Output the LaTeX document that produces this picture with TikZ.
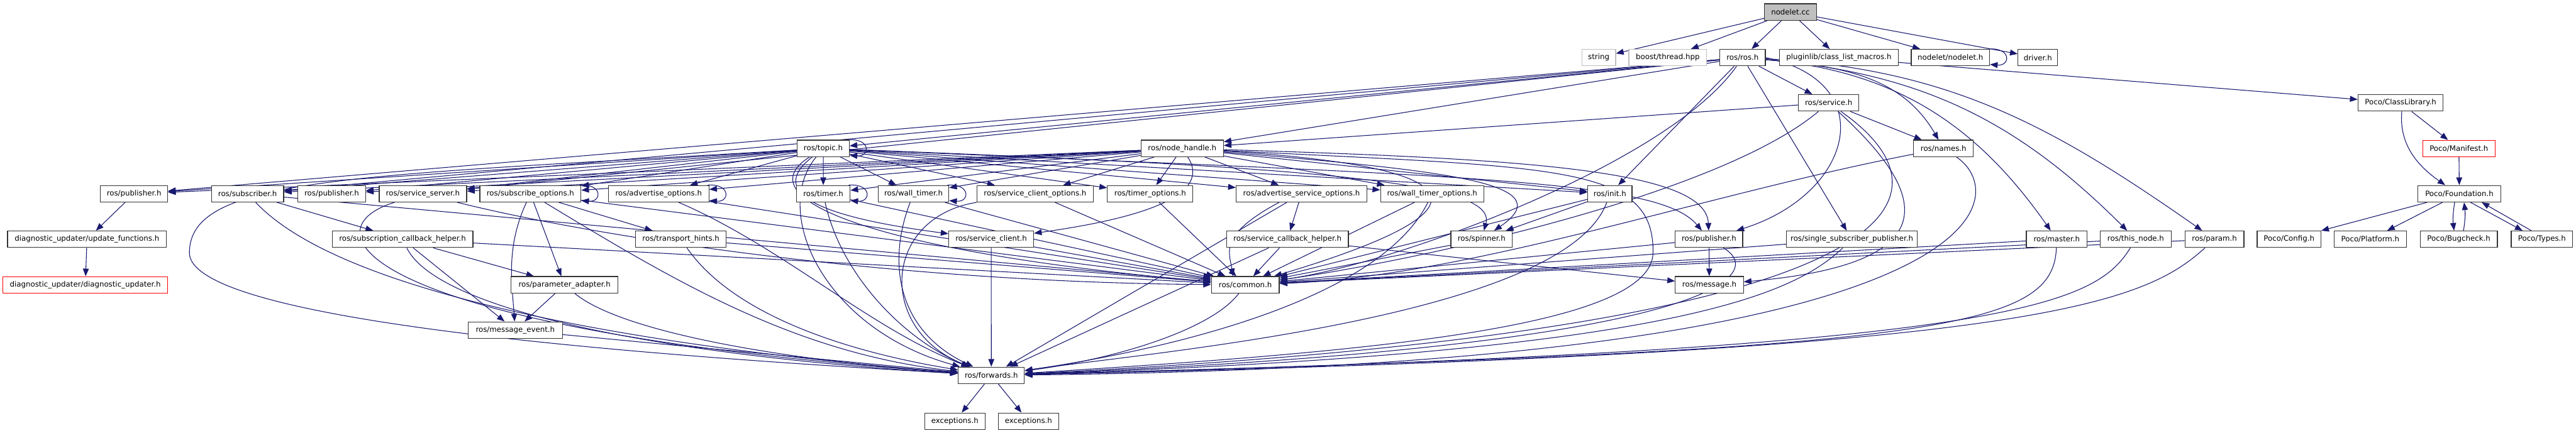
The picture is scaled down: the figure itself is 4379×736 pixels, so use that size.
\documentclass[tikz,border=0pt]{standalone}
\usepackage{fontspec}
\newfontfamily\dvs{DejaVu Sans}
\usetikzlibrary{arrows.meta}
\definecolor{edgec}{HTML}{191970}
\definecolor{gbord}{HTML}{BFBFBF}
\pgfdeclarelayer{bg}
\pgfsetlayers{bg,main}
\tikzset{
  box/.style={draw=black!80, line width=1.3pt, fill=white, minimum height=28pt, inner sep=0pt, font=\dvs\fontsize{12.6}{14}\selectfont},
  greybox/.style={box, draw=gbord},
  redbox/.style={box, draw=red, line width=1pt},
  rootbox/.style={box, fill=gbord},
  e/.style={draw=edgec, line width=1.15pt, -{Triangle[length=13pt,width=10pt]}},
}
\newcommand{\mkbox}[6]{\node[#1, minimum width={(#4-#3)*1pt}] (#2) at ({(#3+#4)/2},{-#5}) {#6};}
\newcommand{\selfloop}[1]{\draw[e] ([xshift=-3pt]#1.north east) .. controls +(40,3) and +(35,-3) .. ([yshift=3pt]#1.south east);}
\begin{document}
\begin{tikzpicture}[x=1pt,y=1pt]
\useasboundingbox (0,0) rectangle (4379,-736);
% row 0
\mkbox{rootbox}{n0}{2999.3}{3087.9}{20.5}{nodelet.cc}
% row 1
\mkbox{greybox}{str}{2689}{2746.4}{98}{string}
\mkbox{greybox}{bth}{2769}{2901}{98}{boost/thread.hpp}
\mkbox{box}{ros}{2923.5}{3001}{98}{ros/ros.h}
\mkbox{box}{plg}{3025}{3226.8}{98}{pluginlib/class\_list\_macros.h}
\mkbox{box}{ndh}{3248.9}{3382.1}{98}{nodelet/nodelet.h}
\mkbox{box}{drv}{3430.4}{3497.9}{98}{driver.h}
% row 2
\mkbox{box}{srv}{3057.1}{3160}{175}{ros/service.h}
\mkbox{box}{pcl}{4008.4}{4153.2}{175}{Poco/ClassLibrary.h}
% row 3
\mkbox{box}{top}{1355.4}{1443.6}{252.5}{ros/topic.h}
\mkbox{box}{nh}{1939.6}{2079.6}{252.5}{ros/node\_handle.h}
\mkbox{box}{nam}{3252.9}{3354.6}{252.5}{ros/names.h}
\mkbox{redbox}{man}{4118.4}{4241.4}{252.5}{Poco/Manifest.h}
% row 4
\mkbox{box}{pba}{170.7}{285}{329.6}{ros/publisher.h}
\mkbox{box}{sub}{359.6}{482.1}{329.6}{ros/subscriber.h}
\mkbox{box}{pbb}{506.4}{621.4}{329.6}{ros/publisher.h}
\mkbox{box}{ssv}{644.6}{793.2}{329.6}{ros/service\_server.h}
\mkbox{box}{sop}{815.7}{987.5}{329.6}{ros/subscribe\_options.h}
\mkbox{box}{aop}{1034.3}{1205}{329.6}{ros/advertise\_options.h}
\mkbox{box}{tim}{1353.9}{1445}{329.6}{ros/timer.h}
\mkbox{box}{wti}{1492.9}{1612.9}{329.6}{ros/wall\_timer.h}
\mkbox{box}{sco}{1661}{1858.2}{329.6}{ros/service\_client\_options.h}
\mkbox{box}{tio}{1882.5}{2027.9}{329.6}{ros/timer\_options.h}
\mkbox{box}{aso}{2101.4}{2323.5}{329.6}{ros/advertise\_service\_options.h}
\mkbox{box}{wto}{2346.8}{2522.3}{329.6}{ros/wall\_timer\_options.h}
\mkbox{box}{ini}{2699}{2774.3}{329.6}{ros/init.h}
\mkbox{box}{fnd}{4110.4}{4251}{329.6}{Poco/Foundation.h}
% row 5
\mkbox{box}{upf}{12.9}{282.9}{407}{diagnostic\_updater/update\_functions.h}
\mkbox{box}{scb}{564.6}{803.9}{407}{ros/subscription\_callback\_helper.h}
\mkbox{box}{thn}{1080.4}{1234.6}{407}{ros/transport\_hints.h}
\mkbox{box}{scl}{1612.9}{1757.1}{407}{ros/service\_client.h}
\mkbox{box}{sch}{2085}{2292.1}{407}{ros/service\_callback\_helper.h}
\mkbox{box}{spn}{2466.4}{2570.7}{407}{ros/spinner.h}
\mkbox{box}{pbc}{2847.9}{2962.5}{407}{ros/publisher.h}
\mkbox{box}{ssp}{3037.1}{3258.9}{407}{ros/single\_subscriber\_publisher.h}
\mkbox{box}{mst}{3444.6}{3547.9}{407}{ros/master.h}
\mkbox{box}{tnd}{3570.4}{3690.7}{407}{ros/this\_node.h}
\mkbox{box}{prm}{3714.3}{3814.4}{407}{ros/param.h}
\mkbox{box}{cfg}{3836.9}{3945.4}{407}{Poco/Config.h}
\mkbox{box}{plt}{3967.9}{4090.5}{407}{Poco/Platform.h}
\mkbox{box}{bug}{4114.2}{4245.2}{407}{Poco/Bugcheck.h}
\mkbox{box}{typ}{4268.9}{4373.2}{407}{Poco/Types.h}
% row 6
\mkbox{redbox}{dgu}{4.6}{285.4}{484.5}{diagnostic\_updater/diagnostic\_updater.h}
\mkbox{box}{pad}{868.6}{1050.7}{484.5}{ros/parameter\_adapter.h}
\mkbox{box}{com}{2059.3}{2174.6}{484.5}{ros/common.h}
\mkbox{box}{msg}{2847.9}{2963.6}{484.5}{ros/message.h}
% row 7-9
\mkbox{box}{mev}{795.7}{956.1}{561.5}{ros/message\_event.h}
\mkbox{box}{fwd}{1628.9}{1741.4}{638.5}{ros/forwards.h}
\mkbox{box}{ex1}{1571.8}{1674.6}{716.5}{exceptions.h}
\mkbox{box}{ex2}{1697.1}{1799.6}{716.5}{exceptions.h}
\coordinate (lp) at (322,-430);
\coordinate (rp) at (2810,-430);
\begin{pgfonlayer}{bg}
\fill[white] (0,0) rectangle (4379,-736);
\foreach \a/\b in {n0/str,n0/bth,n0/ros,n0/plg,n0/ndh,n0/drv,
  plg/pcl,pcl/man,man/fnd,fnd/cfg,fnd/plt,
  ros/top,ros/nh,ros/pba,ros/sub,ros/ssv,ros/ini,ros/srv,ros/ssp,
  srv/nh,srv/nam,
  top/pba,top/sub,top/pbb,top/ssv,top/sop,top/aop,top/tim,top/wti,top/sco,top/tio,top/aso,top/wto,top/ini,
  nh/pba,nh/sub,nh/pbb,nh/ssv,nh/sop,nh/aop,nh/tim,nh/wti,nh/sco,nh/tio,nh/aso,nh/wto,nh/ini,
  pba/upf,upf/dgu,sub/scb,sub/com,sop/pad,sop/thn,sop/com,
  aop/com,tim/com,wti/com,sco/com,scl/fwd,scl/com,tio/com,
  aso/sch,sch/com,sch/fwd,sch/msg,aso/fwd,wto/com,
  ini/spn,ini/com,spn/com,
  scb/pad,scb/mev,scb/com,pad/mev,mev/fwd,thn/com,
  pbc/msg,pbc/com,ssp/com,mst/com,tnd/com,prm/com,
  fwd/ex1,fwd/ex2}
  \draw[e] (\a) -- (\b);
% self loops
\selfloop{ndh}
\selfloop{top}
\selfloop{sop}
\selfloop{aop}
\selfloop{tim}
\selfloop{wti}
% Poco
\draw[e] ([xshift=2pt]pcl.south) to[out=-95,in=145] ([xshift=-24pt]fnd.north);
\draw[e] ([xshift=-8pt]fnd.south) to[bend right=8] ([xshift=-8pt]bug.north);
\draw[e] ([xshift=8pt]bug.north) to[bend right=8] ([xshift=8pt]fnd.south);
\draw[e] ([xshift=19pt]fnd.south) -- ([xshift=-33pt]typ.north);
\draw[e] ([xshift=-18pt]typ.north) -- ([xshift=38pt]fnd.south);
% ros.h
\draw[e] (ros) to[out=-125,in=8,looseness=0.6] (com);
\draw[e] (ros.east) .. controls (3200,-140) and (3150,-330) .. (pbc);
\draw[e] (ros) to[out=-5,in=120] (nam);
\draw[e] (ros) to[out=-5,in=125] (mst);
\draw[e] (ros) to[out=-5,in=135] (tnd);
\draw[e] (ros) to[out=-3,in=145] (prm);
% service.h
\draw[e] (srv) to[out=-140,in=8,looseness=0.6] (com);
\draw[e] (srv) .. controls (3290,-340) and (3300,-450) .. (msg);
\draw[e] (srv) .. controls (3330,-330) and (3300,-560) .. (fwd);
% names
\draw[e] (nam) .. controls (2900,-330) and (2500,-470) .. (com);
\draw[e] (nam) .. controls (3420,-330) and (3420,-620) .. (fwd);
% init etc
\draw[e] (ini) .. controls (2660,-540) and (1950,-600) .. (fwd);
\draw[e] ([xshift=-38pt]aso.south) .. controls (2070,-400) and (2090,-430) .. ([xshift=-21pt]com.north);
\draw[e] (wto) .. controls (2340,-520) and (1950,-600) .. (fwd);
\draw[e] (sco.south west) .. controls (1500,-370) and (1490,-560) .. (fwd);
\draw[e] (wti) .. controls (1510,-440) and (1520,-560) .. (fwd);
\draw[e] (tim) .. controls (1430,-470) and (1540,-580) .. (fwd);
\draw[e] (aop) .. controls (1330,-420) and (1480,-560) .. (fwd);
\draw[e] (sop) .. controls (860,-420) and (870,-480) .. (mev);
\draw[e] (sop) .. controls (1150,-480) and (1350,-600) .. (fwd);
\draw[e] (thn) .. controls (1250,-540) and (1450,-600) .. (fwd);
\draw[e] (ssv) .. controls (520,-390) and (600,-560) .. (fwd);
\draw[e] (ssv) .. controls (1000,-400) and (1500,-480) .. (com);
\draw[e] (sub) .. controls (600,-520) and (1200,-600) .. (fwd);
\draw[e] (scb) .. controls (750,-540) and (1200,-610) .. (fwd);
\draw[e] (pad) .. controls (1050,-560) and (1300,-610) .. (fwd);
\draw[e] (com) .. controls (2060,-560) and (1900,-610) .. (fwd);
\draw[e] (pbc) .. controls (3010,-470) and (2900,-590) .. (fwd);
\draw[e] (ssp) .. controls (3050,-500) and (2850,-600) .. (fwd);
\draw[e] (mst) .. controls (3490,-560) and (3300,-595) .. (fwd);
\draw[e] (tnd) .. controls (3560,-520) and (3420,-595) .. (fwd);
\draw[e] (prm) .. controls (3640,-520) and (3450,-600) .. (fwd);
% topic / node_handle curves
\draw[e] (top) .. controls (1300,-330) and (1400,-370) .. (scl);
\draw[e] (nh) .. controls (2060,-330) and (1950,-370) .. (scl);
\draw[e] (top) .. controls (1260,-340) and (1500,-430) .. (com);
\draw[e] (top) .. controls (1310,-360) and (1400,-560) .. (fwd);
\draw[e] (top) .. controls (600,-300) and (322,-300) .. (lp) .. controls (322,-540) and (1000,-600) .. (fwd);
\draw[e] (top) .. controls (2250,-285) and (2545,-310) .. (spn);
\draw[e] (nh) .. controls (2450,-290) and (2660,-310) .. (spn);
\draw[e] (nh) .. controls (2450,-280) and (2600,-340) .. (com);
\draw[e] (nh) .. controls (2600,-270) and (2900,-290) .. (pbc);
\draw[e] (top) .. controls (2500,-300) and (2820,-305) .. (pbc);
\draw[e] (nh) .. controls (2650,-285) and (2812,-280) .. (rp) .. controls (2808,-560) and (2300,-600) .. (fwd);
\end{pgfonlayer}
\end{tikzpicture}
\end{document}
